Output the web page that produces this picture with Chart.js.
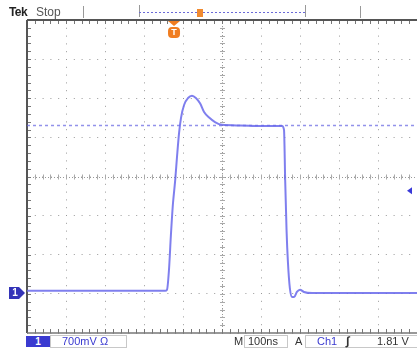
<!DOCTYPE html>
<html><head><meta charset="utf-8">
<script src="https://cdn.jsdelivr.net/npm/chart.js@4.4.0/dist/chart.umd.min.js"></script>
<style>
html,body{margin:0;padding:0;background:#fff;}
#wrap{position:relative;width:417px;height:351px;overflow:hidden;font-family:"Liberation Sans",Arial,sans-serif;}
#c{position:absolute;left:0;top:0;}
.t{position:absolute;white-space:nowrap;line-height:1;}
.box{position:absolute;border:1px solid #c8c8c8;box-sizing:border-box;}
</style></head>
<body><div id="wrap"><canvas id="c" width="417" height="351"></canvas>
<div class="t" style="left:9px;top:6px;font-size:12px;font-weight:bold;color:#222;letter-spacing:-0.6px">Tek</div>
<div class="t" style="left:36px;top:6px;font-size:12px;color:#555">Stop</div>
<div class="t" style="left:26px;top:336px;width:24px;height:11px;background:#3a3ad0;color:#fff;font-size:10px;font-weight:bold;text-align:center;line-height:11px">1</div>
<div class="box" style="left:50px;top:335px;width:77px;height:13px"></div>
<div class="t" style="left:62px;top:336px;font-size:11px;color:#3a3ad0">700mV &#937;</div>
<div class="t" style="left:234px;top:336px;font-size:11px;color:#333">M</div>
<div class="box" style="left:244px;top:335px;width:44px;height:13px"></div>
<div class="t" style="left:248px;top:336px;font-size:11px;color:#333">100ns</div>
<div class="t" style="left:295px;top:336px;font-size:11px;color:#333">A</div>
<div class="box" style="left:305px;top:335px;width:120px;height:13px"></div>
<div class="t" style="left:317px;top:336px;font-size:11px;color:#3a3ad0">Ch1</div>
<div class="t" style="left:346px;top:335px;font-size:12px;font-style:italic;font-weight:bold;color:#333">&#8747;</div>
<div class="t" style="left:377px;top:336px;font-size:11px;color:#333">1.81 V</div>
</div>
<script>
// time in ns relative to trigger, voltage in V
const timeNs = [-377,-215,-62,-23,-18,-13,-8,-3,3,8,13,18,26,36,46,56,67,77,90,105,123,169,221,277,282,285,288.5,292,297,303,308,315,323,333,354,477,623];
const volts  = [0.02,0.02,0.02,0.02,0.04,0.39,1.02,1.56,2.00,2.45,2.85,3.12,3.35,3.47,3.51,3.47,3.37,3.22,3.12,3.04,2.99,2.98,2.97,2.97,2.90,2.00,1.11,0.54,0.07,-0.09,-0.09,0.0,0.04,0.0,-0.02,-0.02,-0.02];
const xGrid = [-377,-277,-177,-77,23,123,223,323,423,523,623];
const yGrid = [-0.734,-0.034,0.666,1.366,2.066,2.766,3.466,4.166,4.866];
const groundLevel = 0;
const triggerLevel = 1.81;
const triggerTime = 0;
const cursorLevel = 2.98;

const scopePlugin = {
  id:'scope',
  beforeDatasetsDraw(chart){
    const {ctx, chartArea:a, scales:{x,y}} = chart;
    ctx.save();
    const cx = x.getPixelForValue(xGrid[5]);
    const cy = y.getPixelForValue(yGrid[4]);
    ctx.strokeStyle='#999'; ctx.lineWidth=1;
    ctx.setLineDash([1,2]);
    ctx.beginPath(); ctx.moveTo(Math.round(cx)+0.5,a.top); ctx.lineTo(Math.round(cx)+0.5,a.bottom);
    ctx.moveTo(a.left,Math.round(cy)+0.5); ctx.lineTo(a.right,Math.round(cy)+0.5); ctx.stroke();
    ctx.setLineDash([]);
    const dx=(a.right-a.left)/50, dy=(a.bottom-a.top)/40;
    ctx.strokeStyle='#aaa';
    ctx.beginPath();
    for(let i=1;i<50;i++){const px=Math.round(a.left+i*dx)+0.5; ctx.moveTo(px,cy-2);ctx.lineTo(px,cy+3);}
    for(let i=1;i<40;i++){const py=Math.round(a.top+i*dy)+0.5; ctx.moveTo(cx-2,py);ctx.lineTo(cx+3,py);}
    ctx.stroke();
    ctx.strokeStyle='#777';
    ctx.beginPath();
    for(let i=1;i<50;i++){const px=Math.round(a.left+i*dx)+0.5; ctx.moveTo(px,a.top);ctx.lineTo(px,a.top+4); ctx.moveTo(px,a.bottom);ctx.lineTo(px,a.bottom-4);}
    for(let i=1;i<40;i++){const py=Math.round(a.top+i*dy)+0.5; ctx.moveTo(a.left,py);ctx.lineTo(a.left+4,py);}
    ctx.stroke();
    ctx.strokeStyle='#555'; ctx.lineWidth=2;
    ctx.beginPath(); ctx.moveTo(a.left,a.top); ctx.lineTo(a.right,a.top);
    ctx.moveTo(a.left,a.top); ctx.lineTo(a.left,a.bottom); ctx.stroke();
    ctx.strokeStyle='#777'; ctx.lineWidth=1.5;
    ctx.beginPath(); ctx.moveTo(a.left,a.bottom); ctx.lineTo(a.right,a.bottom); ctx.stroke();
    const cyl = Math.round(y.getPixelForValue(cursorLevel))+0.5;
    ctx.strokeStyle='rgba(100,100,225,0.7)'; ctx.lineWidth=1.5; ctx.setLineDash([3,3]);
    ctx.beginPath(); ctx.moveTo(a.left,cyl); ctx.lineTo(a.right,cyl); ctx.stroke();
    ctx.setLineDash([]);
    ctx.restore();
  },
  afterDraw(chart){
    const {ctx, chartArea:a, scales:{x,y}} = chart;
    ctx.save();
    ctx.strokeStyle='#999'; ctx.lineWidth=1;
    ctx.beginPath();
    [83,360].forEach(px=>{ctx.moveTo(px+0.5,6);ctx.lineTo(px+0.5,18);});
    [139,305].forEach(px=>{ctx.moveTo(px+0.5,5);ctx.lineTo(px+0.5,17);});
    ctx.stroke();
    ctx.strokeStyle='#6a6ad8'; ctx.setLineDash([2,2]);
    ctx.beginPath(); ctx.moveTo(139,12.5); ctx.lineTo(305,12.5); ctx.stroke(); ctx.setLineDash([]);
    ctx.fillStyle='#f08a30';
    ctx.fillRect(197,9,6,8);
    const tx = x.getPixelForValue(triggerTime);
    ctx.fillStyle='#f07d20';
    ctx.beginPath(); ctx.moveTo(tx-6,a.top+1); ctx.lineTo(tx+6,a.top+1); ctx.lineTo(tx,a.top+6); ctx.closePath(); ctx.fill();
    ctx.beginPath(); ctx.roundRect(tx-6,a.top+7,12,11,4); ctx.fill();
    ctx.fillStyle='#fff'; ctx.font='bold 9px "Liberation Sans"'; ctx.textAlign='center'; ctx.textBaseline='middle';
    ctx.fillText('T',tx,a.top+12.5);
    const gy = y.getPixelForValue(groundLevel)+1;
    ctx.fillStyle='#3434b8';
    ctx.beginPath(); ctx.moveTo(9,gy-6); ctx.lineTo(19,gy-6); ctx.lineTo(25,gy); ctx.lineTo(19,gy+6); ctx.lineTo(9,gy+6); ctx.closePath(); ctx.fill();
    ctx.fillStyle='#fff'; ctx.font='bold 10px "Liberation Sans"';
    ctx.fillText('1',15,gy+0.5);
    const ty = y.getPixelForValue(triggerLevel);
    ctx.fillStyle='#3a3ad8';
    ctx.beginPath(); ctx.moveTo(407,ty); ctx.lineTo(412,ty-3.5); ctx.lineTo(412,ty+3.5); ctx.closePath(); ctx.fill();
    ctx.restore();
  }
};

new Chart(document.getElementById('c'), {
  type:'line',
  data:{ datasets:[{
    data: timeNs.map((t,i)=>({x:t,y:volts[i]})),
    borderColor:'rgba(105,105,235,0.85)', borderWidth:2, pointRadius:0,
    cubicInterpolationMode:'monotone', fill:false
  }]},
  options:{
    responsive:false, animation:false,
    layout:{padding:{left:27,top:20,right:0,bottom:18}},
    plugins:{legend:{display:false}, tooltip:{enabled:false}},
    scales:{
      x:{type:'linear',min:xGrid[0],max:xGrid[xGrid.length-1],
        afterBuildTicks:s=>{s.ticks=xGrid.map(v=>({value:v}));},
        ticks:{display:false},
        grid:{color:'#999',lineWidth:1,drawTicks:false},
        border:{display:false,dash:[1,6.8]}},
      y:{type:'linear',min:yGrid[0],max:yGrid[yGrid.length-1],
        afterBuildTicks:s=>{s.ticks=yGrid.map(v=>({value:v}));},
        ticks:{display:false},
        grid:{color:'#999',lineWidth:1,drawTicks:false},
        border:{display:false,dash:[1,6.8]}}
    }
  },
  plugins:[scopePlugin]
});
</script>
</body></html>
